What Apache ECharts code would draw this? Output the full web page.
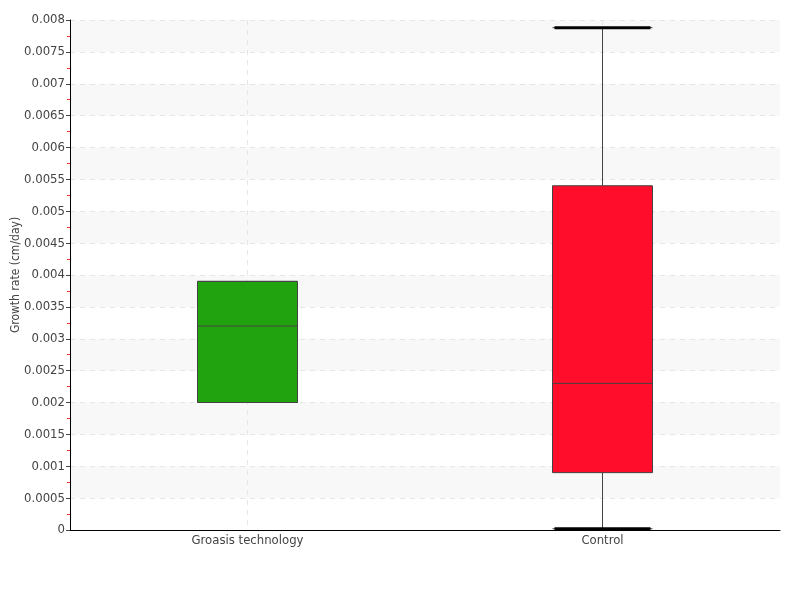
<!DOCTYPE html>
<html><head><meta charset="utf-8">
<script src="https://cdn.jsdelivr.net/npm/echarts@6/dist/echarts.min.js"></script>
<style>html,body{margin:0;padding:0;background:#fff}#c{width:800px;height:600px}</style>
</head><body><div id="c"></div>
<script>
const categories = ['Groasis technology', 'Control'];
// [min, Q1, median, Q3, max]
const boxValues = [
  [0.002, 0.002, 0.0032, 0.0039, 0.0039],
  [0.00002, 0.0009, 0.0023, 0.0054, 0.00788]
];
const boxColors = ['#21a30f', '#ff0d2a'];
const capValues = [
  ['Control', 0.00788],
  ['Control', 0.00002]
];
const FONT = 'DejaVu Sans Condensed';
const chart = echarts.init(document.getElementById('c'));
chart.setOption({
  animation: false,
  textStyle: {fontFamily: FONT},
  grid: {left: 70, right: 20, top: 20, bottom: 70, containLabel: false, outerBoundsMode: 'none'},
  xAxis: {
    type: 'category', data: categories, boundaryGap: true,
    axisLine: {lineStyle: {color: '#000', width: 1}},
    axisTick: {show: false},
    axisLabel: {color: '#444', fontSize: 13, fontFamily: FONT, margin: 4},
    splitLine: {show: true, alignWithLabel: true, lineStyle: {color: '#e6e6e6', type: [5, 5]}}
  },
  yAxis: {
    type: 'value', min: 0, max: 0.008, interval: 0.0005,
    name: 'Growth rate (cm/day)', nameLocation: 'middle', nameGap: 48, nameMoveOverlap: false,
    nameTextStyle: {color: '#444', fontSize: 12, fontFamily: FONT},
    axisLine: {show: true, lineStyle: {color: '#000'}},
    axisTick: {show: true, length: 4, lineStyle: {color: '#444'}},
    minorTick: {show: true, splitNumber: 2, length: 3, lineStyle: {color: '#ff3030'}},
    axisLabel: {color: '#444', fontSize: 13, fontFamily: FONT, margin: 5},
    splitLine: {show: true, lineStyle: {color: '#e6e6e6', type: [5, 5]}},
    splitArea: {show: true, areaStyle: {color: ['rgba(255,255,255,0)', '#f8f8f8']}}
  },
  series: [
    {
      type: 'boxplot',
      boxWidth: [100, 100],
      data: boxValues.map((v, i) => ({
        value: v,
        itemStyle: {color: boxColors[i], borderColor: '#444', borderWidth: 1}
      })),
      z: 3
    },
    {
      type: 'scatter',
      data: capValues,
      symbol: 'rect',
      symbolSize: [96, 3],
      itemStyle: {color: '#000', opacity: 1},
      z: 4
    }
  ]
});
</script></body></html>
